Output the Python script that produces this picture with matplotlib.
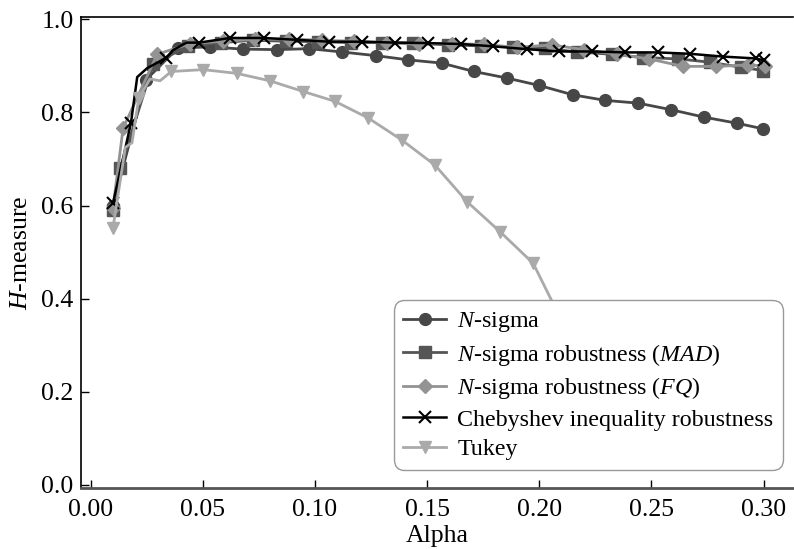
import numpy as np
import matplotlib
matplotlib.use('Agg')
import matplotlib.pyplot as plt

plt.rcParams['font.family'] = ['Liberation Serif', 'DejaVu Serif']
plt.rcParams['mathtext.fontset'] = 'custom'
plt.rcParams['mathtext.rm'] = 'Liberation Serif'
plt.rcParams['mathtext.it'] = 'Liberation Serif:italic'

# N-sigma
alpha_ns = [0.010, 0.0247, 0.0388, 0.0532, 0.0678, 0.0829, 0.0975, 0.1119, 0.1272, 0.1416, 0.1565,
            0.1709, 0.1855, 0.2000, 0.2149, 0.2293, 0.2441, 0.2587, 0.2734, 0.2880, 0.2996]
h_ns = [0.600, 0.870, 0.938, 0.941, 0.936, 0.935, 0.937, 0.930, 0.922, 0.913, 0.906,
        0.888, 0.874, 0.858, 0.838, 0.826, 0.820, 0.806, 0.790, 0.777, 0.765]

# N-sigma robustness (MAD)
alpha_mad = [0.010, 0.0133, 0.0280, 0.0435, 0.0580, 0.0725, 0.0870, 0.1015, 0.1160, 0.1300, 0.1438,
             0.1594, 0.1740, 0.1884, 0.2025, 0.2167, 0.2323, 0.2464, 0.2620, 0.2760, 0.2900, 0.2999]
h_mad = [0.590, 0.681, 0.905, 0.942, 0.950, 0.955, 0.953, 0.952, 0.950, 0.950, 0.949,
         0.945, 0.943, 0.941, 0.938, 0.930, 0.925, 0.918, 0.915, 0.908, 0.897, 0.890]

# N-sigma robustness (FQ)
alpha_fq = [0.010, 0.0145, 0.0297, 0.0445, 0.0590, 0.0735, 0.0885, 0.1030, 0.1175, 0.1320, 0.1465,
            0.1610, 0.1755, 0.1900, 0.2055, 0.2200, 0.2345, 0.2490, 0.2642, 0.2790, 0.2932, 0.3005]
h_fq = [0.595, 0.766, 0.925, 0.948, 0.953, 0.957, 0.958, 0.955, 0.953, 0.950, 0.946,
        0.948, 0.946, 0.940, 0.945, 0.935, 0.925, 0.915, 0.899, 0.899, 0.902, 0.900]

# Chebyshev inequality robustness (some points are kinks without a marker)
alpha_cheb = [0.010, 0.018, 0.0208, 0.0252, 0.0336, 0.0368, 0.0428, 0.0484, 0.0621, 0.0773, 0.0921,
              0.1062, 0.1210, 0.1357, 0.1502, 0.1651, 0.1795, 0.1944, 0.2089, 0.2236, 0.2382,
              0.2528, 0.2672, 0.2820, 0.2965, 0.3000]
h_cheb = [0.605, 0.777, 0.876, 0.895, 0.917, 0.934, 0.950, 0.950, 0.960, 0.960, 0.956,
          0.952, 0.952, 0.950, 0.949, 0.947, 0.942, 0.936, 0.931, 0.931, 0.929,
          0.929, 0.926, 0.920, 0.916, 0.912]
cheb_marks = [0, 1, 4] + list(range(7, 26))

# Tukey (the tail is hidden behind the legend)
alpha_tk = [0.010, 0.0155, 0.0185, 0.0215, 0.0265, 0.0310, 0.0360, 0.0502, 0.0651, 0.0799, 0.0948,
            0.1089, 0.1238, 0.1387, 0.1535, 0.1679, 0.1825, 0.1973, 0.2118, 0.2263, 0.2408,
            0.2553, 0.2698, 0.2843, 0.2988]
h_tk = [0.552, 0.725, 0.735, 0.831, 0.872, 0.868, 0.888, 0.892, 0.884, 0.868, 0.845,
        0.824, 0.788, 0.741, 0.687, 0.608, 0.544, 0.476, 0.335, 0.280, 0.230,
        0.190, 0.150, 0.120, 0.100]
tk_marks = [0, 3] + list(range(6, 25))

fig = plt.figure(figsize=(7.94, 5.49), dpi=100)
ax = fig.add_axes([0.1016, 0.1117, 0.8971, 0.8573])

ax.plot(alpha_ns, h_ns, color='#474747', lw=2, marker='o', ms=8.5, label='$N$-sigma')
ax.plot(alpha_mad, h_mad, color='#555555', lw=2, marker='s', ms=8,
        label='$N$-sigma robustness ($MAD$)')
ax.plot(alpha_fq, h_fq, color='#939393', lw=2, marker='D', ms=7.5,
        label='$N$-sigma robustness ($FQ$)')
ax.plot(alpha_cheb, h_cheb, color='black', lw=1.8, marker='x', ms=9, mew=1.5,
        markevery=cheb_marks, label='Chebyshev inequality robustness')
ax.plot(alpha_tk, h_tk, color='#aaaaaa', lw=2, marker='v', ms=9,
        markevery=tk_marks, label='Tukey')

ax.set_xlim(-0.0044, 0.3131)
ax.set_ylim(-0.006, 1.005)
ax.set_xticks(np.arange(0, 0.31, 0.05))
ax.set_yticks(np.arange(0, 1.01, 0.2))
ax.set_xticklabels(['%.2f' % t for t in np.arange(0, 0.31, 0.05)])
ax.set_yticklabels(['%.1f' % t for t in np.arange(0, 1.01, 0.2)])
ax.tick_params(direction='in', length=6, width=1, labelsize=18.5)
ax.tick_params(axis='x', pad=8)
ax.tick_params(axis='y', pad=5)

ax.spines['right'].set_visible(False)
ax.spines['bottom'].set_linewidth(2)
ax.spines['bottom'].set_color('#555555')
ax.spines['left'].set_linewidth(1.2)
ax.spines['top'].set_linewidth(1.2)

ax.set_xlabel('Alpha', fontsize=18.5, labelpad=3)
ax.set_ylabel('$H$-measure', fontsize=18.5, labelpad=7)

leg = ax.legend(loc='lower right', bbox_to_anchor=(0.986, 0.0376), borderaxespad=0,
                fontsize=17.3, framealpha=1, edgecolor='#999999', fancybox=True,
                handlelength=1.8, handletextpad=0.45, labelspacing=0.32, borderpad=0.4)
leg.get_frame().set_linewidth(1)
leg.get_frame().set_boxstyle('round', pad=0, rounding_size=0.45)

plt.savefig('out.png', dpi=100)
